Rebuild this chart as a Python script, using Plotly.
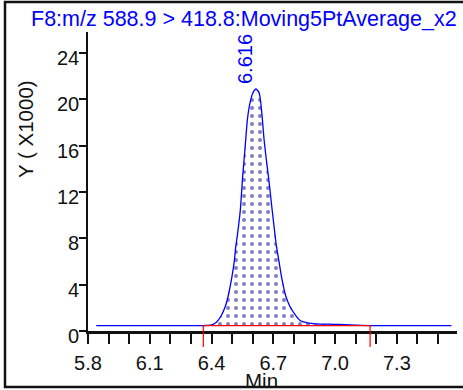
import numpy as np
import plotly.graph_objects as go

# Smoothed SRM chromatogram: retention time (min) and intensity (counts)
rt_min = [5.84, 6.36, 6.40, 6.425, 6.446, 6.468, 6.481, 6.497, 6.510, 6.518, 6.526,
          6.540, 6.550, 6.558, 6.566, 6.574, 6.587, 6.601, 6.616, 6.631, 6.639,
          6.647, 6.655, 6.666, 6.678, 6.694, 6.708, 6.715, 6.728, 6.742, 6.760,
          6.779, 6.811, 6.834, 6.860, 6.885, 6.930, 6.970, 7.020, 7.070, 7.170, 7.565]
intensity = [470, 470, 520, 770, 1290, 2180, 3040, 4470, 5940, 7340, 8340,
             10490, 13080, 14800, 16520, 18240, 19700, 20560, 20880, 20560, 19700,
             18240, 16520, 14800, 13080, 10490, 8340, 7340, 5940, 4470, 3040,
             2180, 1290, 860, 730, 650, 590, 600, 560, 520, 470, 470]

# Peak annotation and integration window
peak_rt = 6.616
int_start = 6.36
int_end = 7.17
baseline_level = 470

trace_title = "F8:m/z 588.9 > 418.8:Moving5PtAverage_x2"
y_tick_vals = [0, 4, 8, 12, 16, 20, 24]          # thousands
x_tick_vals = [round(5.8 + 0.1 * i, 1) for i in range(18)]
x_label_vals = [5.8, 6.1, 6.4, 6.7, 7.0, 7.3]

# Canvas geometry (pixels)
W, H = 463, 390
ML, MR, MT, MB = 88, 6, 32, 59
PW, PH = W - ML - MR, H - MT - MB
X_RANGE = [5.8, 7.592]
Y_RANGE = [0, 25.8]

FONT = "Liberation Sans, Arial, sans-serif"
BLUE = "#0000ff"
RED = "#ff0000"


def px_x(p):
    return (p - ML) / PW


def px_y(p):
    return (H - MB - p) / PH


t = np.array(rt_min)
y = np.array(intensity) / 1000.0
base_k = baseline_level / 1000.0

# integrated area polygon: curve points inside the window, closed along the baseline
inside = (t >= int_start) & (t <= int_end)
fill_x = np.concatenate([[int_start], t[inside], [int_end, int_start]])
fill_y = np.concatenate([[base_k], y[inside], [base_k, base_k]])

fig = go.Figure()

fig.add_trace(go.Scatter(
    x=fill_x, y=fill_y, mode="lines", fill="toself",
    line=dict(width=0, color="rgba(0,0,0,0)", shape="spline", smoothing=0.6),
    fillcolor="white",
    fillpattern=dict(shape=".", fgcolor="#000080", bgcolor="white",
                     size=8, solidity=0.2),
    hoverinfo="skip", showlegend=False,
))

fig.add_trace(go.Scatter(
    x=t, y=y, mode="lines",
    line=dict(color=BLUE, width=1.3, shape="spline", smoothing=0.6),
    showlegend=False,
))

fig.add_trace(go.Scatter(
    x=[int_start, int_end], y=[base_k, base_k], mode="lines",
    line=dict(color=RED, width=1.3), showlegend=False,
))

shapes = []
# integration start / end markers dropping below the time axis
for edge in (int_start, int_end):
    shapes.append(dict(type="line", xref="x", yref="paper",
                       x0=edge, x1=edge,
                       y0=base_k / Y_RANGE[1], y1=px_y(347),
                       line=dict(color=RED, width=1.2)))
# outer frame
shapes.append(dict(type="rect", xref="paper", yref="paper",
                   x0=px_x(5), x1=px_x(475), y0=px_y(387), y1=px_y(2),
                   line=dict(color="#111111", width=2.5), layer="above"))

annotations = [
    dict(text=trace_title, xref="paper", yref="paper",
         x=px_x(29), y=px_y(19.5), xanchor="left", yanchor="middle",
         showarrow=False, font=dict(family=FONT, size=21.5, color=BLUE)),
    dict(text=f"{peak_rt:.3f}", xref="x", yref="y",
         x=peak_rt, y=float(y.max()), textangle=-90,
         xanchor="center", yanchor="bottom", xshift=-11, yshift=3,
         showarrow=False, font=dict(family=FONT, size=20, color=BLUE)),
    dict(text="Y ( X1000)", xref="paper", yref="paper",
         x=px_x(25), y=px_y(129), textangle=-90,
         xanchor="center", yanchor="middle",
         showarrow=False, font=dict(family=FONT, size=20.5, color="#111111")),
    dict(text="Min", xref="paper", yref="paper",
         x=px_x(261), y=px_y(381), xanchor="center", yanchor="middle",
         showarrow=False, font=dict(family=FONT, size=20.5, color="#111111")),
]
for v in y_tick_vals:
    annotations.append(dict(text=str(v), xref="paper", yref="y",
                            x=px_x(81), y=v, xanchor="right", yanchor="middle",
                            yshift=-5, showarrow=False,
                            font=dict(family=FONT, size=20, color="#111111")))

x_tick_text = [f"{v:.1f}" if v in x_label_vals else "" for v in x_tick_vals]

fig.update_layout(
    width=W, height=H, autosize=False,
    margin=dict(l=ML, r=MR, t=MT, b=MB, pad=0),
    paper_bgcolor="white", plot_bgcolor="white",
    shapes=shapes, annotations=annotations,
    xaxis=dict(range=X_RANGE, showgrid=False, zeroline=False,
               showline=True, linecolor="#111111", linewidth=3,
               ticks="outside", ticklen=10, tickwidth=2.2, tickcolor="#111111",
               tickmode="array", tickvals=x_tick_vals, ticktext=x_tick_text,
               ticklabelstandoff=2,
               tickfont=dict(family=FONT, size=20, color="#111111"),
               fixedrange=True),
    yaxis=dict(range=Y_RANGE, showgrid=False, zeroline=False,
               showline=True, linecolor="#111111", linewidth=2.2,
               ticks="outside", ticklen=7, tickwidth=2.2, tickcolor="#111111",
               tickmode="array", tickvals=y_tick_vals, showticklabels=False,
               fixedrange=True),
)

fig.write_html("out.html")
